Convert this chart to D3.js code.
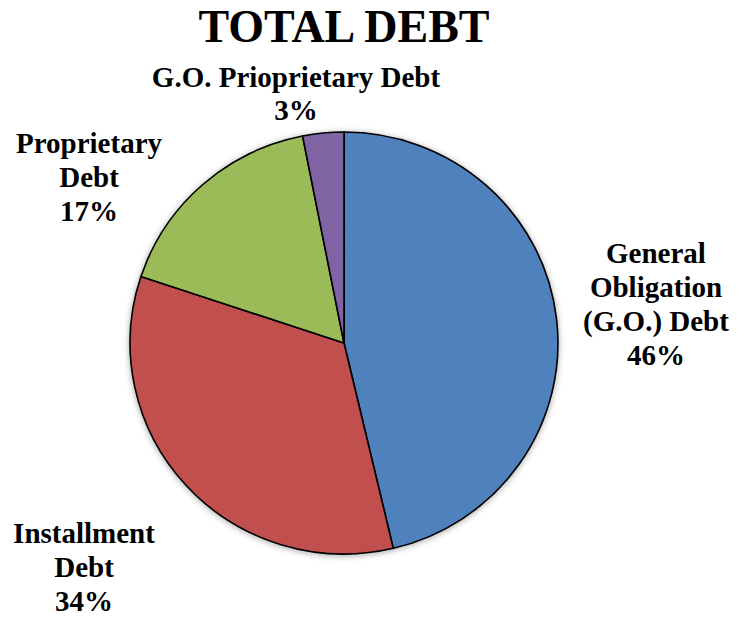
<!DOCTYPE html>
<head>
    <meta charset="utf-8">
    <script src="https://cdn.jsdelivr.net/npm/d3@7"></script>
    <style type="text/css">
        body {
            margin: 0;
            background: #fff;
        }
        .slice {
            stroke: #000;
            stroke-width: 1.6px;
        }
        .title, .label {
            font-family: "Liberation Serif", "Times New Roman", "DejaVu Serif";
            font-weight: bold;
            fill: #000;
        }
    </style>
</head>
<body>
    <div id="chart"></div>
</body>

<script type="text/javascript">
    var width = 749, height = 618;

    // slices, clockwise from 12 o'clock
    var categories = ["General Obligation (G.O.) Debt", "Installment Debt", "Proprietary Debt", "G.O. Prioprietary Debt"];
    var values = [46.3, 33.8, 16.8, 3.1];
    var pctLabels = ["46%", "34%", "17%", "3%"];
    var colors = ["#4F81BD", "#C0504D", "#9BBB59", "#8064A2"];

    // label text as it is broken into lines in the picture
    var labelLines = [
        ["General", "Obligation", "(G.O.) Debt"],
        ["Installment", "Debt"],
        ["Proprietary", "Debt"],
        ["G.O. Prioprietary Debt"]
    ];
    var labelPos = [[656, 263], [84, 543], [89, 153], [296, 87]];

    var cx = 344, cy = 343, r = 211;

    var svg = d3.select("#chart").append("svg")
        .attr("width", width)
        .attr("height", height);

    var defs = svg.append("defs");
    var filter = defs.append("filter")
        .attr("id", "shadow")
        .attr("x", "-10%").attr("y", "-10%")
        .attr("width", "120%").attr("height", "120%");
    filter.append("feDropShadow")
        .attr("dx", 0).attr("dy", 1)
        .attr("stdDeviation", 3)
        .attr("flood-color", "#000")
        .attr("flood-opacity", 0.35);

    svg.append("text")
        .attr("class", "title")
        .attr("x", 344)
        .attr("y", 42)
        .attr("text-anchor", "middle")
        .style("font-size", "46px")
        .text("TOTAL DEBT");

    var pie = d3.pie().sort(null).value(function(d) { return d; });
    var arc = d3.arc().innerRadius(0).outerRadius(r);

    var g = svg.append("g")
        .attr("transform", "translate(" + cx + "," + cy + ") scale(1.014,1)")
        .attr("filter", "url(#shadow)");

    g.selectAll("path")
        .data(pie(values))
        .enter().append("path")
        .attr("class", "slice")
        .attr("fill", function(d, i) { return colors[i]; })
        .attr("d", arc);

    var lineH = 34;
    labelLines.forEach(function(lines, i) {
        var t = svg.append("text")
            .attr("class", "label")
            .attr("text-anchor", "middle")
            .style("font-size", "29px");
        lines.concat([pctLabels[i]]).forEach(function(s, j) {
            t.append("tspan")
                .attr("x", labelPos[i][0])
                .attr("y", labelPos[i][1] + j * (i === 3 ? 33 : lineH))
                .text(s);
        });
    });
</script>
